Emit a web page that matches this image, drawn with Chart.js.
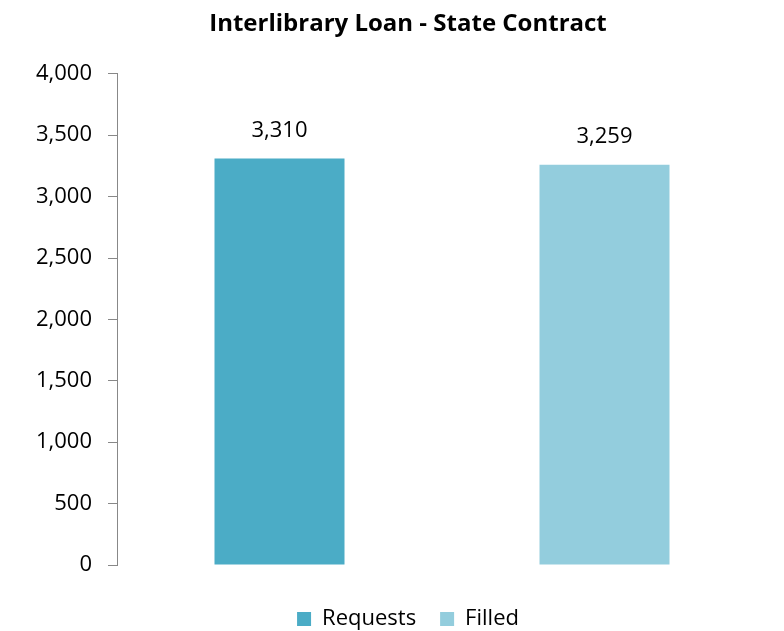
<!DOCTYPE html>
<html>
<head>
<meta charset="utf-8">
<script src="https://cdn.jsdelivr.net/npm/chart.js@4"></script>
<style>
  html, body { margin: 0; padding: 0; background: #fff; }
  #wrap { width: 784px; height: 631px; }
</style>
</head>
<body>
<div id="wrap"><canvas id="chart" width="784" height="631"></canvas></div>
<script>
// chart data
const categories = ['Requests', 'Filled'];
const requestsValues = [3310, null];
const filledValues = [null, 3259];
const yTicks = { min: 0, max: 4000, step: 500 };

const FONT = "'Open Sans', sans-serif";
const fmt = (v) => v.toLocaleString('en-US');

// draws the value above each bar
const valueLabels = {
  id: 'valueLabels',
  afterDatasetsDraw(chart) {
    const ctx = chart.ctx;
    ctx.save();
    ctx.font = '22px ' + FONT;
    ctx.fillStyle = '#000';
    ctx.textAlign = 'center';
    ctx.textBaseline = 'middle';
    chart.data.datasets.forEach((ds, i) => {
      chart.getDatasetMeta(i).data.forEach((bar, j) => {
        if (ds.data[j] == null) return;
        ctx.fillText(fmt(ds.data[j]), bar.x, bar.y - 28);
      });
    });
    ctx.restore();
  }
};

const createDataset = (label, data, color) => ({
  label,
  data,
  backgroundColor: color,
  borderWidth: 0,
  grouped: false,
  categoryPercentage: 1,
  barPercentage: 0.4,
});

const config = {
  type: 'bar',
  data: {
    labels: categories,
    datasets: [
      createDataset('Requests', requestsValues, '#4BACC6'),
      createDataset('Filled', filledValues, '#93CDDD'),
    ],
  },
  options: {
    responsive: false,
    animation: false,
    layout: { padding: { left: 32, right: 0, top: 0, bottom: -9 } },
    plugins: {
      title: {
        display: true,
        text: 'Interlibrary Loan - State Contract',
        color: '#000',
        font: { family: FONT, size: 24, weight: 'bold' },
        padding: { top: 10, bottom: 35 },
      },
      legend: {
        position: 'bottom',
        labels: {
          color: '#000',
          font: { family: FONT, size: 22 },
          boxWidth: 14,
          boxHeight: 14,
          padding: 24,
        },
      },
      tooltip: { enabled: false },
    },
    scales: {
      x: {
        ticks: { display: false },
        grid: { display: false },
        border: { display: false },
        afterFit: (scale) => { scale.height = 19; },
      },
      y: {
        min: yTicks.min,
        max: yTicks.max,
        ticks: {
          stepSize: yTicks.step,
          color: '#000',
          font: { family: FONT, size: 22 },
          padding: 16,
          callback: (v) => fmt(v),
        },
        grid: {
          drawOnChartArea: false,
          tickLength: 9,
          color: '#888',
        },
        border: { display: true, color: '#888', width: 1 },
        afterFit: (scale) => { scale.width = 85; },
      },
      // empty spacer on the right so the plot ends where the reference does
      yRight: {
        position: 'right',
        ticks: { display: false },
        grid: { display: false },
        border: { display: false },
        afterFit: (scale) => { scale.width = 17; },
      },
    },
  },
  plugins: [valueLabels],
};

new Chart(document.getElementById('chart').getContext('2d'), config);
</script>
</body>
</html>
